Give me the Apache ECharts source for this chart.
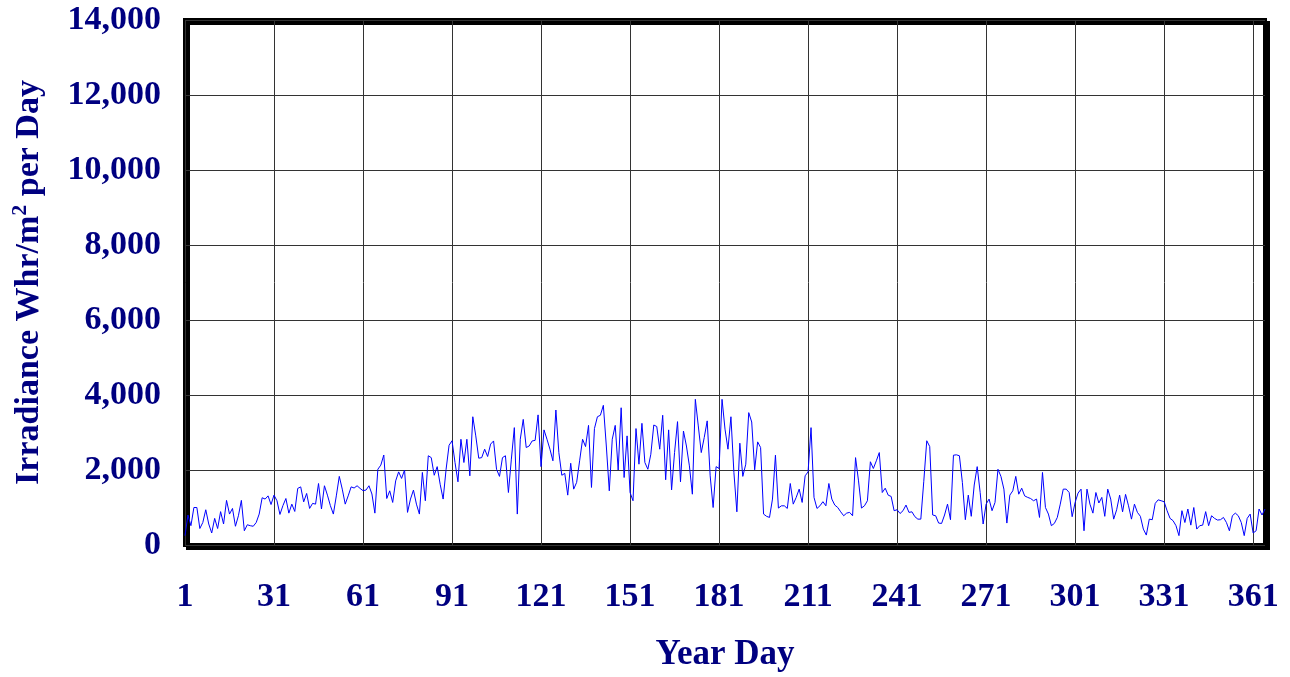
<!DOCTYPE html>
<html>
<head>
<meta charset="utf-8">
<script src="https://cdn.jsdelivr.net/npm/echarts@6/dist/echarts.min.js"></script>
<style>
html,body{margin:0;padding:0;background:#fff;}
#chart{width:1290px;height:677px;}
</style>
</head>
<body>
<div id="chart"></div>
<script>
// Daily irradiance (Whr/m^2 per day), days 1..365
const irradiance = [
  250, 800, 515, 1000, 1000, 440, 600, 940, 560, 320,
  710, 440, 890, 560, 1190, 825, 975, 500, 780, 1190,
  380, 540, 515, 500, 600, 825, 1260, 1225, 1310, 1080,
  1330, 1180, 815, 1050, 1240, 850, 1090, 895, 1510, 1550,
  1150, 1375, 975, 1110, 1090, 1640, 960, 1580, 1330, 1050,
  825, 1310, 1830, 1490, 1090, 1310, 1550, 1520, 1580, 1510,
  1450, 1465, 1580, 1360, 850, 2020, 2130, 2400, 1240, 1445,
  1135, 1710, 1950, 1775, 2000, 870, 1225, 1465, 1090, 825,
  1935, 1180, 2380, 2330, 1860, 2090, 1620, 1225, 2020, 2660,
  2780, 2200, 1685, 2820, 2200, 2820, 1845, 3420, 2910, 2315,
  2330, 2555, 2360, 2690, 2775, 2020, 1830, 2330, 2380, 1400,
  2290, 3130, 825, 2820, 3350, 2600, 2640, 2775, 2790, 3470,
  2090, 3070, 2820, 2555, 2245, 3600, 2465, 1860, 1910, 1330,
  2180, 1490, 1670, 2245, 2820, 2625, 3190, 1535, 3105, 3420,
  3460, 3725, 2640, 1445, 2820, 3190, 2000, 3660, 1800, 2910,
  1400, 1180, 3105, 2155, 3245, 2200, 2020, 2420, 3200, 3160,
  2555, 3460, 1740, 3070, 1470, 2465, 3290, 1685, 3040, 2640,
  2110, 1355, 3885, 3175, 2465, 2865, 3310, 1845, 1000, 2090,
  2040, 3885, 3090, 2555, 3420, 1935, 885, 2715, 1830, 2155,
  3530, 3280, 2005, 2750, 2600, 825, 765, 735, 1225, 2395,
  985, 1045, 1045, 975, 1640, 1090, 1270, 1490, 1135, 1845,
  1950, 3130, 1270, 975, 1045, 1155, 1045, 1640, 1225, 1065,
  1000, 885, 780, 850, 870, 780, 2330, 1710, 985, 1045,
  1180, 2220, 2040, 2245, 2465, 1400, 1515, 1330, 1295, 915,
  940, 840, 915, 1065, 870, 885, 755, 690, 690, 1700,
  2780, 2625, 800, 780, 585, 575, 800, 1090, 675, 2395,
  2405, 2380, 1670, 675, 1330, 765, 1600, 2090, 1400, 560,
  1090, 1225, 915, 1135, 2020, 1830, 1490, 585, 1330, 1445,
  1830, 1355, 1515, 1310, 1270, 1240, 1180, 1225, 735, 1935,
  1000, 825, 515, 575, 735, 1090, 1490, 1490, 1400, 755,
  1135, 1385, 1490, 380, 1490, 1090, 850, 1400, 1120, 1270,
  765, 1490, 1225, 690, 940, 1330, 885, 1350, 1045, 690,
  1090, 870, 765, 425, 265, 690, 675, 1110, 1205, 1180,
  1155, 915, 710, 650, 515, 250, 915, 600, 960, 530,
  1000, 425, 515, 530, 890, 515, 780, 710, 665, 675,
  735, 600, 380, 780, 850, 780, 600, 250, 710, 825,
  320, 380, 960, 800, 960
];
const yearDays = irradiance.map((_, i) => String(i + 1));
const yTicks = { min: 0, max: 14000, step: 2000 };
const xTitle = 'Year Day';
const yTitle = 'Irradiance Whr/m{sup|2} per Day';

const navy = '#000080';
const fontFam = '"Liberation Serif", "Times New Roman", serif';

const chart = echarts.init(document.getElementById('chart'), null, { renderer: 'canvas' });
chart.setOption({
  animation: false,
  backgroundColor: '#fff',
  grid: {
    left: 185, right: 25, top: 20, bottom: 131,
    show: true,
    borderColor: '#000',
    borderWidth: 4,
    backgroundColor: '#fff',
    shadowColor: '#000',
    shadowBlur: 0,
    shadowOffsetX: 3,
    shadowOffsetY: 3
  },
  xAxis: {
    type: 'category',
    data: yearDays,
    boundaryGap: false,
    name: xTitle,
    nameLocation: 'middle',
    nameGap: 92,
    nameTextStyle: { color: navy, fontFamily: fontFam, fontWeight: 'bold', fontSize: 35 },
    axisLine: { show: false },
    axisTick: { show: false },
    axisLabel: {
      interval: 29,
      margin: 35,
      color: navy,
      fontFamily: fontFam,
      fontWeight: 'bold',
      fontSize: 34
    },
    splitLine: { show: true, interval: 29, lineStyle: { color: '#333', width: 1 } }
  },
  yAxis: {
    type: 'value',
    min: yTicks.min,
    max: yTicks.max,
    interval: yTicks.step,
    name: yTitle,
    nameLocation: 'middle',
    nameRotate: 90,
    nameGap: 136,
    nameTextStyle: {
      color: navy, fontFamily: fontFam, fontWeight: 'bold', fontSize: 34, lineHeight: 40,
      rich: {
        sup: { color: navy, fontFamily: fontFam, fontWeight: 'bold', fontSize: 22, lineHeight: 22, verticalAlign: 'top' }
      }
    },
    axisLine: { show: false },
    axisTick: { show: false },
    axisLabel: {
      margin: 24,
      color: navy,
      fontFamily: fontFam,
      fontWeight: 'bold',
      fontSize: 34,
      formatter: v => v.toLocaleString('en-US')
    },
    splitLine: { show: true, lineStyle: { color: '#333', width: 1 } }
  },
  series: [{
    type: 'line',
    data: irradiance,
    symbol: 'none',
    lineStyle: { color: '#0000ff', width: 1 },
    z: 3
  }]
});
</script>
</body>
</html>
